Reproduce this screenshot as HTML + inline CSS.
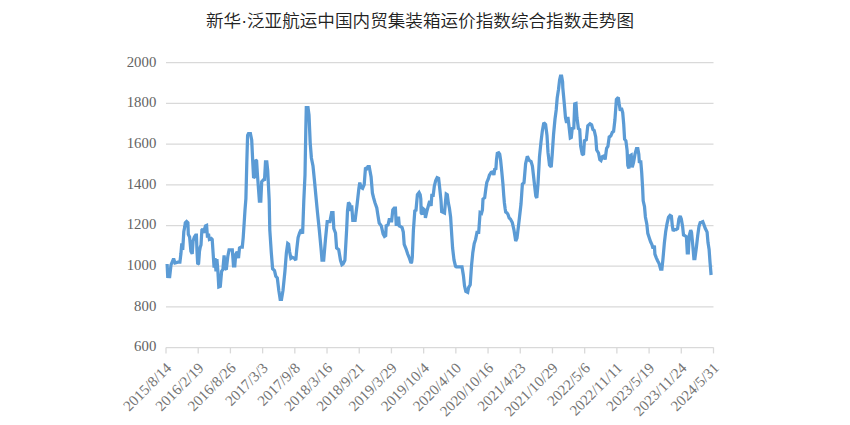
<!DOCTYPE html>
<html><head><meta charset="utf-8"><title>新华·泛亚航运中国内贸集装箱运价指数综合指数走势图</title>
<style>
html,body{margin:0;padding:0;background:#fff;}
body{width:850px;height:425px;position:relative;overflow:hidden;}
.title{position:absolute;left:0;top:9px;width:840px;text-align:center;font-family:"Liberation Sans","Noto Sans CJK SC",sans-serif;font-size:17.6px;font-weight:350;line-height:24px;color:#222;white-space:nowrap;}
svg{position:absolute;left:0;top:0;}
.yl{font-family:"Liberation Serif",serif;font-size:14.8px;fill:#636363;}
.xl{font-family:"Liberation Serif",serif;font-size:15px;fill:#747474;}
</style></head>
<body>
<div class="title">新华·泛亚航运中国内贸集装箱运价指数综合指数走势图</div>
<svg width="850" height="425" viewBox="0 0 850 425">
<line x1="166.0" y1="306.94" x2="713.5" y2="306.94" stroke="#d9d9d9" stroke-width="1.25"/>
<line x1="166.0" y1="266.22" x2="713.5" y2="266.22" stroke="#d9d9d9" stroke-width="1.25"/>
<line x1="166.0" y1="225.51" x2="713.5" y2="225.51" stroke="#d9d9d9" stroke-width="1.25"/>
<line x1="166.0" y1="184.79" x2="713.5" y2="184.79" stroke="#d9d9d9" stroke-width="1.25"/>
<line x1="166.0" y1="144.08" x2="713.5" y2="144.08" stroke="#d9d9d9" stroke-width="1.25"/>
<line x1="166.0" y1="103.36" x2="713.5" y2="103.36" stroke="#d9d9d9" stroke-width="1.25"/>
<line x1="166.0" y1="62.65" x2="713.5" y2="62.65" stroke="#d9d9d9" stroke-width="1.25"/>
<line x1="166.0" y1="347.60" x2="713.5" y2="347.60" stroke="#d9d9d9" stroke-width="1.25"/>
<line x1="166.00" y1="347.40" x2="166.00" y2="353.40" stroke="#d9d9d9" stroke-width="1.3"/>
<line x1="198.21" y1="347.40" x2="198.21" y2="353.40" stroke="#d9d9d9" stroke-width="1.3"/>
<line x1="230.41" y1="347.40" x2="230.41" y2="353.40" stroke="#d9d9d9" stroke-width="1.3"/>
<line x1="262.62" y1="347.40" x2="262.62" y2="353.40" stroke="#d9d9d9" stroke-width="1.3"/>
<line x1="294.82" y1="347.40" x2="294.82" y2="353.40" stroke="#d9d9d9" stroke-width="1.3"/>
<line x1="327.03" y1="347.40" x2="327.03" y2="353.40" stroke="#d9d9d9" stroke-width="1.3"/>
<line x1="359.24" y1="347.40" x2="359.24" y2="353.40" stroke="#d9d9d9" stroke-width="1.3"/>
<line x1="391.44" y1="347.40" x2="391.44" y2="353.40" stroke="#d9d9d9" stroke-width="1.3"/>
<line x1="423.65" y1="347.40" x2="423.65" y2="353.40" stroke="#d9d9d9" stroke-width="1.3"/>
<line x1="455.85" y1="347.40" x2="455.85" y2="353.40" stroke="#d9d9d9" stroke-width="1.3"/>
<line x1="488.06" y1="347.40" x2="488.06" y2="353.40" stroke="#d9d9d9" stroke-width="1.3"/>
<line x1="520.26" y1="347.40" x2="520.26" y2="353.40" stroke="#d9d9d9" stroke-width="1.3"/>
<line x1="552.47" y1="347.40" x2="552.47" y2="353.40" stroke="#d9d9d9" stroke-width="1.3"/>
<line x1="584.68" y1="347.40" x2="584.68" y2="353.40" stroke="#d9d9d9" stroke-width="1.3"/>
<line x1="616.88" y1="347.40" x2="616.88" y2="353.40" stroke="#d9d9d9" stroke-width="1.3"/>
<line x1="649.09" y1="347.40" x2="649.09" y2="353.40" stroke="#d9d9d9" stroke-width="1.3"/>
<line x1="681.29" y1="347.40" x2="681.29" y2="353.40" stroke="#d9d9d9" stroke-width="1.3"/>
<line x1="713.50" y1="347.40" x2="713.50" y2="353.40" stroke="#d9d9d9" stroke-width="1.3"/>
<text x="156.3" y="351" text-anchor="end" class="yl">600</text>
<text x="156.3" y="311" text-anchor="end" class="yl">800</text>
<text x="156.3" y="270" text-anchor="end" class="yl">1000</text>
<text x="156.3" y="229" text-anchor="end" class="yl">1200</text>
<text x="156.3" y="189" text-anchor="end" class="yl">1400</text>
<text x="156.3" y="148" text-anchor="end" class="yl">1600</text>
<text x="156.3" y="107" text-anchor="end" class="yl">1800</text>
<text x="156.3" y="67" text-anchor="end" class="yl">2000</text>
<text x="172.30" y="369.00" text-anchor="end" class="xl" transform="rotate(-45 172.30 369.00)">2015/8/14</text>
<text x="204.51" y="369.00" text-anchor="end" class="xl" transform="rotate(-45 204.51 369.00)">2016/2/19</text>
<text x="236.71" y="369.00" text-anchor="end" class="xl" transform="rotate(-45 236.71 369.00)">2016/8/26</text>
<text x="268.92" y="369.00" text-anchor="end" class="xl" transform="rotate(-45 268.92 369.00)">2017/3/3</text>
<text x="301.12" y="369.00" text-anchor="end" class="xl" transform="rotate(-45 301.12 369.00)">2017/9/8</text>
<text x="333.33" y="369.00" text-anchor="end" class="xl" transform="rotate(-45 333.33 369.00)">2018/3/16</text>
<text x="365.54" y="369.00" text-anchor="end" class="xl" transform="rotate(-45 365.54 369.00)">2018/9/21</text>
<text x="397.74" y="369.00" text-anchor="end" class="xl" transform="rotate(-45 397.74 369.00)">2019/3/29</text>
<text x="429.95" y="369.00" text-anchor="end" class="xl" transform="rotate(-45 429.95 369.00)">2019/10/4</text>
<text x="462.15" y="369.00" text-anchor="end" class="xl" transform="rotate(-45 462.15 369.00)">2020/4/10</text>
<text x="494.36" y="369.00" text-anchor="end" class="xl" transform="rotate(-45 494.36 369.00)">2020/10/16</text>
<text x="526.56" y="369.00" text-anchor="end" class="xl" transform="rotate(-45 526.56 369.00)">2021/4/23</text>
<text x="558.77" y="369.00" text-anchor="end" class="xl" transform="rotate(-45 558.77 369.00)">2021/10/29</text>
<text x="590.98" y="369.00" text-anchor="end" class="xl" transform="rotate(-45 590.98 369.00)">2022/5/6</text>
<text x="623.18" y="369.00" text-anchor="end" class="xl" transform="rotate(-45 623.18 369.00)">2022/11/11</text>
<text x="655.39" y="369.00" text-anchor="end" class="xl" transform="rotate(-45 655.39 369.00)">2023/5/19</text>
<text x="687.59" y="369.00" text-anchor="end" class="xl" transform="rotate(-45 687.59 369.00)">2023/11/24</text>
<text x="719.80" y="369.00" text-anchor="end" class="xl" transform="rotate(-45 719.80 369.00)">2024/5/31</text>
<polyline points="167.1,264.0 167.8,278.0 168.6,268.0 169.5,278.0 171.0,265.0 172.2,262.0 173.6,258.5 175.0,263.0 177.9,262.2 179.9,262.2 180.9,253.8 181.8,243.5 182.7,250.0 183.8,231.8 184.8,226.6 185.3,222.8 186.6,221.5 187.9,222.8 188.3,234.4 189.6,237.0 190.9,251.2 192.2,253.8 193.1,240.9 194.4,237.0 195.7,235.0 196.4,235.0 197.0,251.2 197.7,264.2 198.6,263.5 199.5,251.2 200.3,247.0 201.0,245.0 201.9,230.0 202.8,229.0 203.8,233.0 204.6,229.0 205.5,226.0 206.6,225.5 207.5,237.6 208.5,233.8 209.4,239.4 211.3,238.5 212.2,239.4 213.2,254.5 214.1,267.6 215.0,258.2 216.0,271.4 216.9,259.2 217.9,271.4 218.8,287.0 220.3,286.4 221.6,271.4 222.9,269.5 224.1,255.4 225.4,268.6 226.3,269.5 227.8,256.4 229.1,249.8 232.3,249.8 233.5,265.8 234.8,265.8 235.7,254.5 237.2,251.7 238.5,258.2 239.5,247.9 241.0,247.0 242.3,247.0 243.2,237.6 244.2,222.5 245.0,210.0 245.9,198.6 246.8,162.7 247.6,135.4 248.5,133.5 250.4,133.5 251.7,140.0 252.8,162.7 253.6,177.8 254.7,176.9 255.5,160.0 256.6,160.8 257.4,174.0 258.5,189.0 259.4,201.0 260.8,201.0 261.7,181.6 263.6,179.7 264.5,180.7 265.5,161.8 266.8,161.8 267.7,170.3 269.2,200.5 269.8,230.0 271.3,252.6 272.6,268.7 274.5,270.6 275.8,276.2 277.3,278.0 278.8,290.4 280.2,299.3 281.5,299.3 283.0,290.4 284.9,271.5 286.4,252.6 287.7,243.5 288.6,244.2 289.6,251.7 290.9,258.3 292.4,257.4 294.3,258.3 295.8,260.2 296.8,249.0 298.1,237.5 299.6,232.8 301.2,229.5 302.6,233.7 303.8,200.7 305.0,175.0 305.8,130.0 306.3,107.5 308.0,107.5 309.0,115.0 310.2,142.8 311.4,158.0 313.0,166.0 314.6,182.0 315.8,195.0 317.5,212.6 319.3,230.0 321.0,248.0 322.0,260.0 323.7,260.0 325.5,239.0 327.2,221.5 329.9,221.5 331.6,212.6 333.0,212.6 333.8,228.5 335.5,233.0 336.6,248.0 338.7,249.7 340.5,260.3 341.9,264.7 343.1,263.8 344.9,260.3 346.6,230.3 347.5,211.0 348.5,202.5 349.8,204.3 350.9,211.0 351.7,205.3 352.8,220.4 355.1,220.4 357.0,205.3 358.9,188.3 359.8,182.6 361.1,187.4 362.6,188.3 364.2,184.5 365.5,167.5 366.8,168.5 367.9,166.6 369.2,166.6 371.1,177.0 372.4,193.0 373.5,197.5 374.9,202.5 376.8,208.0 377.8,214.4 379.2,223.0 381.3,225.9 383.1,233.8 384.5,236.4 385.7,235.6 386.2,225.9 388.0,225.0 389.2,219.7 391.0,219.7 391.5,222.3 392.8,210.0 394.2,208.2 395.4,208.2 396.3,225.9 397.2,218.0 398.6,218.0 399.3,225.9 400.7,226.7 402.1,227.6 403.3,232.0 404.2,244.4 406.0,248.8 407.7,254.0 409.5,258.5 411.0,263.0 411.7,262.0 412.3,257.0 413.4,230.3 414.8,210.9 416.0,210.2 417.4,194.7 419.1,192.5 420.2,194.7 420.8,198.9 421.2,213.0 422.2,214.4 423.3,208.8 425.0,210.2 425.4,218.0 426.8,211.6 428.7,204.5 429.7,201.0 431.1,206.0 431.8,195.4 433.2,195.4 434.3,186.2 435.7,180.5 437.1,177.7 438.6,178.4 439.5,186.2 441.0,200.3 441.7,211.6 443.1,212.3 444.5,213.0 445.6,200.3 446.2,194.0 447.3,194.7 448.4,203.1 449.4,208.0 450.6,217.0 451.8,236.0 452.6,248.0 454.0,260.0 455.5,266.2 456.4,266.9 462.0,266.9 463.4,275.4 464.5,285.8 465.8,291.4 467.7,292.4 468.6,287.6 470.2,284.8 471.5,265.9 472.8,252.7 474.2,243.7 475.6,239.4 477.0,232.4 478.7,232.4 480.1,212.6 481.5,213.3 482.4,210.0 483.0,199.0 484.7,197.7 485.9,188.3 486.8,182.4 488.3,178.9 489.4,175.3 491.2,172.4 493.0,171.8 493.9,175.0 494.7,169.4 495.9,168.8 496.5,160.0 497.3,153.4 498.7,152.7 499.7,154.1 500.6,160.0 501.8,171.8 502.9,183.6 503.7,195.0 504.4,203.0 505.2,209.0 505.7,212.0 507.0,213.0 508.0,214.4 509.2,218.0 510.4,219.0 512.3,222.6 513.9,229.6 515.7,241.0 517.0,238.0 518.6,225.0 521.0,204.0 522.4,184.0 524.0,182.6 525.6,163.8 527.3,156.3 529.2,160.3 531.1,161.5 532.4,166.0 534.2,182.0 535.8,196.0 536.8,197.9 538.0,184.0 539.5,156.6 541.0,141.8 542.3,131.2 543.8,122.7 545.6,124.5 547.0,135.4 548.0,152.4 549.5,165.0 551.2,167.0 552.2,154.5 553.6,134.0 555.0,119.0 556.2,110.0 557.2,98.0 558.5,89.5 559.6,80.0 560.5,76.0 561.6,76.0 562.6,82.0 562.8,87.6 564.2,102.7 565.5,117.8 566.6,123.0 567.9,117.0 568.9,125.4 570.3,138.0 571.3,137.5 572.2,128.5 573.8,128.0 574.7,104.0 576.0,103.5 577.0,118.0 578.4,128.5 579.7,129.5 580.7,146.4 582.2,154.0 583.5,155.0 584.4,140.8 586.3,139.8 587.8,125.7 590.0,123.8 591.6,124.8 592.9,129.5 594.2,130.4 595.7,137.0 596.7,150.0 598.5,153.0 599.8,159.5 601.0,160.5 602.3,156.7 604.2,155.8 605.1,159.5 606.6,148.3 607.9,146.4 609.2,137.0 610.8,136.0 612.3,132.3 613.6,131.4 614.9,120.0 616.4,99.4 618.3,97.5 619.2,104.0 620.3,110.8 621.4,107.9 622.7,112.6 623.7,124.0 624.6,139.1 625.9,140.9 627.1,150.4 627.8,165.5 628.9,168.3 629.7,156.0 631.2,155.1 632.2,167.4 633.5,162.6 635.0,154.2 636.5,148.5 637.8,148.5 638.8,154.2 639.4,163.0 640.7,160.4 641.7,172.6 642.6,187.7 643.2,200.9 644.5,206.6 645.4,217.0 646.8,223.9 647.8,233.3 649.3,238.0 650.6,241.8 651.9,244.6 653.1,248.4 654.4,245.6 654.9,254.1 656.3,257.8 657.6,260.7 659.1,263.5 660.6,269.2 661.9,269.2 662.9,259.7 664.4,242.7 665.7,231.4 667.0,223.9 668.5,217.3 670.0,215.4 671.4,216.3 672.3,225.8 673.2,231.0 674.6,229.5 676.1,229.5 677.6,228.5 678.9,219.0 680.2,216.0 681.3,218.9 682.6,226.4 683.5,234.9 685.1,235.8 686.4,236.8 687.3,252.8 688.3,252.8 689.2,235.8 690.7,230.2 691.5,232.1 692.6,243.4 693.9,258.5 694.9,258.5 696.4,247.2 697.7,235.8 699.0,226.4 700.2,222.6 701.5,222.3 702.8,221.7 703.9,224.5 705.2,228.3 706.2,230.2 707.1,232.1 708.0,242.6 709.1,249.5 710.0,262.0 711.1,275.0" fill="none" stroke="#5b9bd5" stroke-width="3.25" stroke-linejoin="miter" stroke-miterlimit="2" stroke-linecap="butt"/>
</svg>
</body></html>
